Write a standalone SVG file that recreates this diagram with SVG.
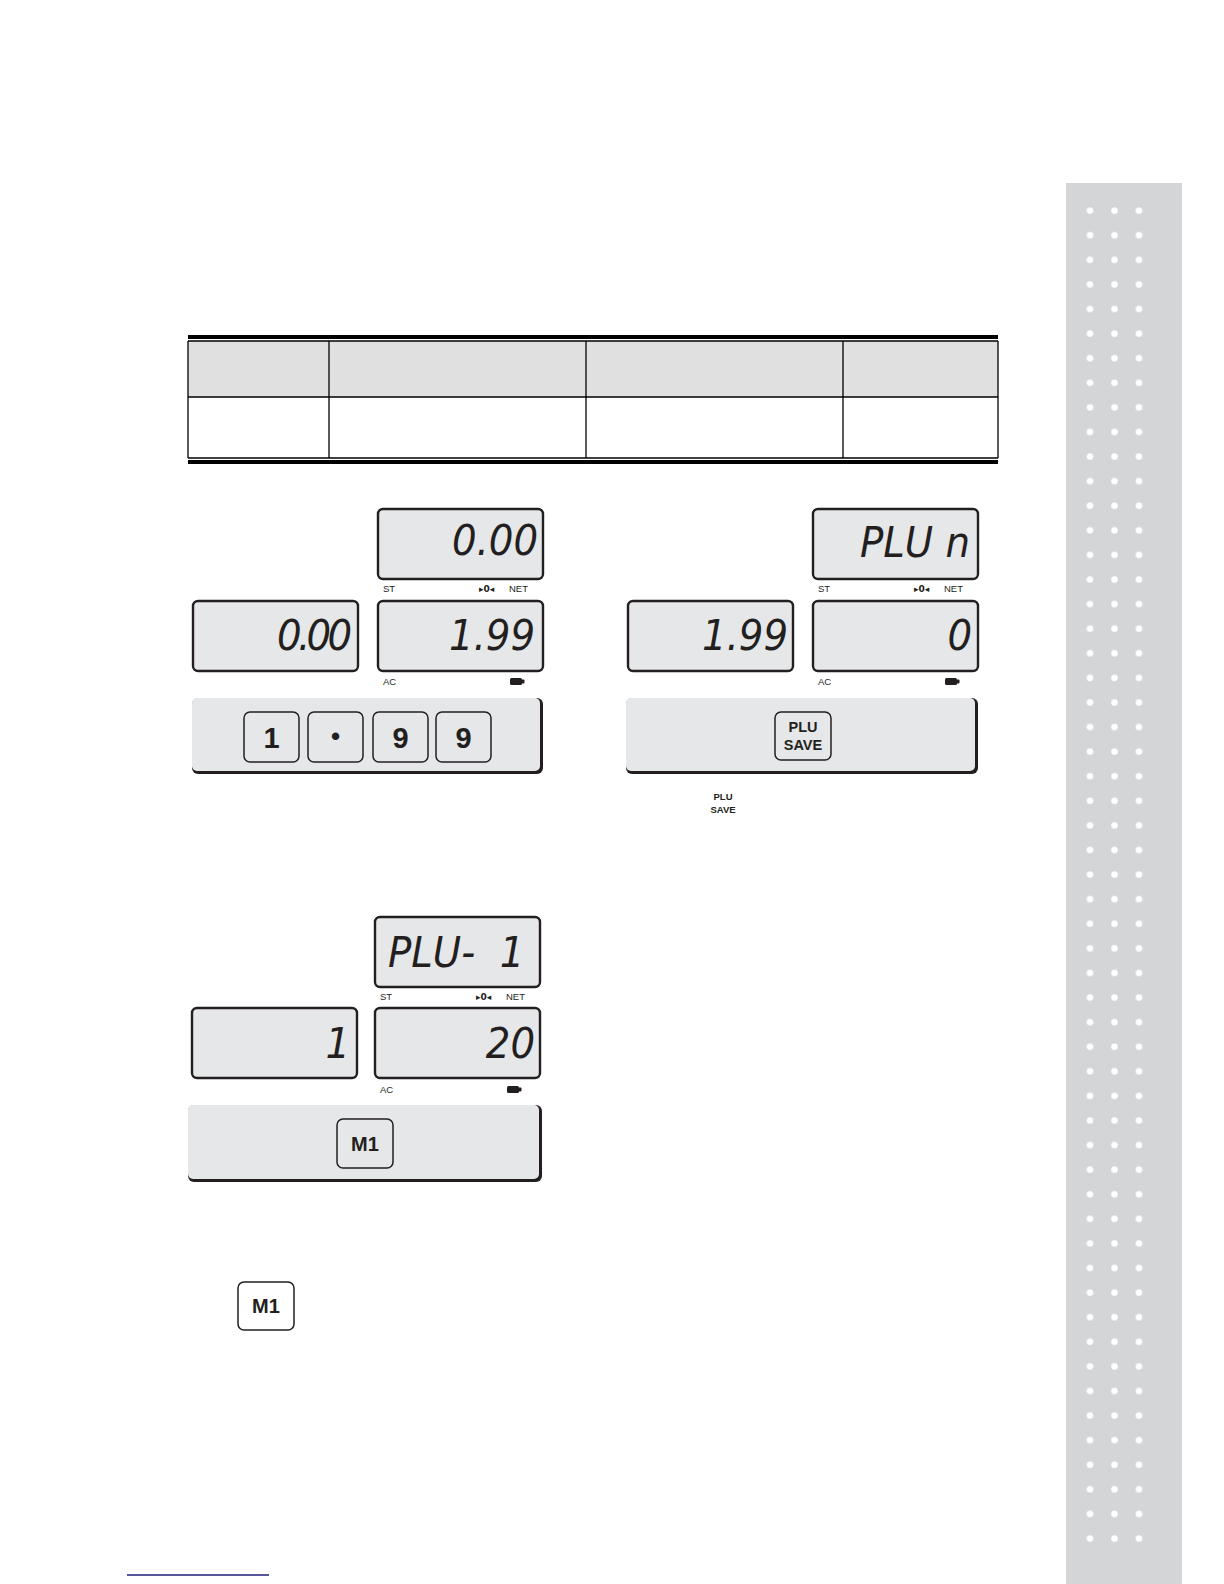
<svg xmlns="http://www.w3.org/2000/svg" width="1224" height="1584" viewBox="0 0 1224 1584">
<style>
.lcd{fill:#e6e7e8;stroke:#231f20;stroke-width:2.4}
.seg{font-family:"DejaVu Sans Condensed","DejaVu Sans",sans-serif;font-stretch:condensed;font-style:italic;font-size:43px;fill:#231f20;text-anchor:end}
.lbl{font-family:"Liberation Sans",Arial,sans-serif;font-size:9.5px;fill:#231f20}
.sym{font-family:"DejaVu Sans",sans-serif;font-size:9px;fill:#231f20;font-weight:bold}
.pnl{fill:#e6e7e8}
.shd{fill:#231f20}
.key{fill:#e6e7e8;stroke:#231f20;stroke-width:1.5}
.kt{font-family:"Liberation Sans",Arial,sans-serif;font-weight:bold;fill:#231f20;text-anchor:middle}
.tl{stroke:#000;stroke-width:1.3}
</style>
<defs>
<pattern id="dots" patternUnits="userSpaceOnUse" x="1077.75" y="198.3" width="24.5" height="24.59">
<circle cx="12.25" cy="12.3" r="3.3" fill="#ffffff"/>
</pattern>
</defs>
<rect width="1224" height="1584" fill="#ffffff"/>
<g id="sidebar">
<rect x="1066" y="183" width="116" height="1401" fill="#d4d5d7"/>
<rect x="1077.75" y="198.3" width="73.5" height="1352.45" fill="url(#dots)"/>
</g>
<g id="table">
<rect x="188" y="341" width="810" height="56" fill="#e0e0e0"/>
<rect x="188" y="335" width="810" height="4" fill="#000"/>
<line class="tl" x1="188" y1="341" x2="998" y2="341"/>
<line class="tl" x1="188" y1="397" x2="998" y2="397"/>
<line class="tl" x1="188" y1="458" x2="998" y2="458"/>
<rect x="188" y="460" width="810" height="4" fill="#000"/>
<line class="tl" x1="188" y1="341" x2="188" y2="458"/>
<line class="tl" x1="329" y1="341" x2="329" y2="458"/>
<line class="tl" x1="586" y1="341" x2="586" y2="458"/>
<line class="tl" x1="843" y1="341" x2="843" y2="458"/>
<line class="tl" x1="998" y1="341" x2="998" y2="458"/>
</g>
<g id="step1">
<rect class="lcd" x="378" y="509" width="165" height="70" rx="5"/>
<text class="seg" x="538" y="555">0.00</text>
<text class="lbl" x="383" y="592">ST</text>
<text class="sym" x="479" y="592">▸0◂</text>
<text class="lbl" x="509" y="592">NET</text>
<rect class="lcd" x="193" y="601" width="165" height="70" rx="5"/>
<text class="seg" x="352" y="650" textLength="75" lengthAdjust="spacing">0.00</text>
<rect class="lcd" x="378" y="601" width="165" height="70" rx="5"/>
<text class="seg" x="535" y="650">1.99</text>
<text class="lbl" x="383" y="685">AC</text>
<rect x="510" y="678" width="12" height="7" rx="1.5" fill="#231f20"/>
<rect x="521" y="679.5" width="3.5" height="4" rx="1" fill="#231f20"/>
<rect class="shd" x="192" y="698" width="351" height="76" rx="6"/>
<rect class="pnl" x="192" y="698" width="348" height="73" rx="5"/>
<rect class="key" x="244" y="712" width="55" height="50" rx="6"/>
<text class="kt" x="271.5" y="747.5" font-size="29">1</text>
<rect class="key" x="308" y="712" width="55" height="50" rx="6"/>
<text class="kt" x="335.5" y="745" font-size="26">•</text>
<rect class="key" x="373" y="712" width="55" height="50" rx="6"/>
<text class="kt" x="400.5" y="747.5" font-size="29">9</text>
<rect class="key" x="436" y="712" width="55" height="50" rx="6"/>
<text class="kt" x="463.5" y="747.5" font-size="29">9</text>
</g>
<g id="step2">
<rect class="lcd" x="813" y="509" width="165" height="70" rx="5"/>
<text class="seg" x="970" y="557" xml:space="preserve">PLU n</text>
<text class="lbl" x="818" y="592">ST</text>
<text class="sym" x="914" y="592">▸0◂</text>
<text class="lbl" x="944" y="592">NET</text>
<rect class="lcd" x="628" y="601" width="165" height="70" rx="5"/>
<text class="seg" x="788" y="650">1.99</text>
<rect class="lcd" x="813" y="601" width="165" height="70" rx="5"/>
<text class="seg" x="972" y="650">0</text>
<text class="lbl" x="818" y="685">AC</text>
<rect x="945" y="678" width="12" height="7" rx="1.5" fill="#231f20"/>
<rect x="956" y="679.5" width="3.5" height="4" rx="1" fill="#231f20"/>
<rect class="shd" x="626" y="698" width="352" height="76" rx="6"/>
<rect class="pnl" x="626" y="698" width="349" height="73" rx="5"/>
<rect class="key" x="775" y="712" width="56" height="48" rx="6"/>
<text class="kt" x="803" y="732" font-size="14.5">PLU</text>
<text class="kt" x="803" y="750" font-size="14.5">SAVE</text>
<text class="kt" x="723" y="800" font-size="9.5">PLU</text>
<text class="kt" x="723" y="813" font-size="9.5">SAVE</text>
</g>
<g id="step3">
<rect class="lcd" x="375" y="917" width="165" height="70" rx="5"/>
<text class="seg" x="388" y="967" style="text-anchor:start" xml:space="preserve">PLU-  1</text>
<text class="lbl" x="380" y="1000">ST</text>
<text class="sym" x="476" y="1000">▸0◂</text>
<text class="lbl" x="506" y="1000">NET</text>
<rect class="lcd" x="192" y="1008" width="165" height="70" rx="5"/>
<text class="seg" x="350" y="1058">1</text>
<rect class="lcd" x="375" y="1008" width="165" height="70" rx="5"/>
<text class="seg" x="535" y="1058">20</text>
<text class="lbl" x="380" y="1093">AC</text>
<rect x="507" y="1086" width="12" height="7" rx="1.5" fill="#231f20"/>
<rect x="518" y="1087.5" width="3.5" height="4" rx="1" fill="#231f20"/>
<rect class="shd" x="188" y="1105" width="354" height="77" rx="6"/>
<rect class="pnl" x="188" y="1105" width="351" height="74" rx="5"/>
<rect class="key" x="337" y="1119" width="56" height="49" rx="6"/>
<text class="kt" x="365" y="1150.5" font-size="20">M1</text>
</g>
<g id="m1key">
<rect class="key" x="238" y="1282" width="56" height="48" rx="6" style="fill:#ffffff"/>
<text class="kt" x="266" y="1313" font-size="20">M1</text>
</g>
<g id="footer">
<line x1="127" y1="1575" x2="269" y2="1575" stroke="#1f1f80" stroke-width="1.5"/>
</g>
</svg>
